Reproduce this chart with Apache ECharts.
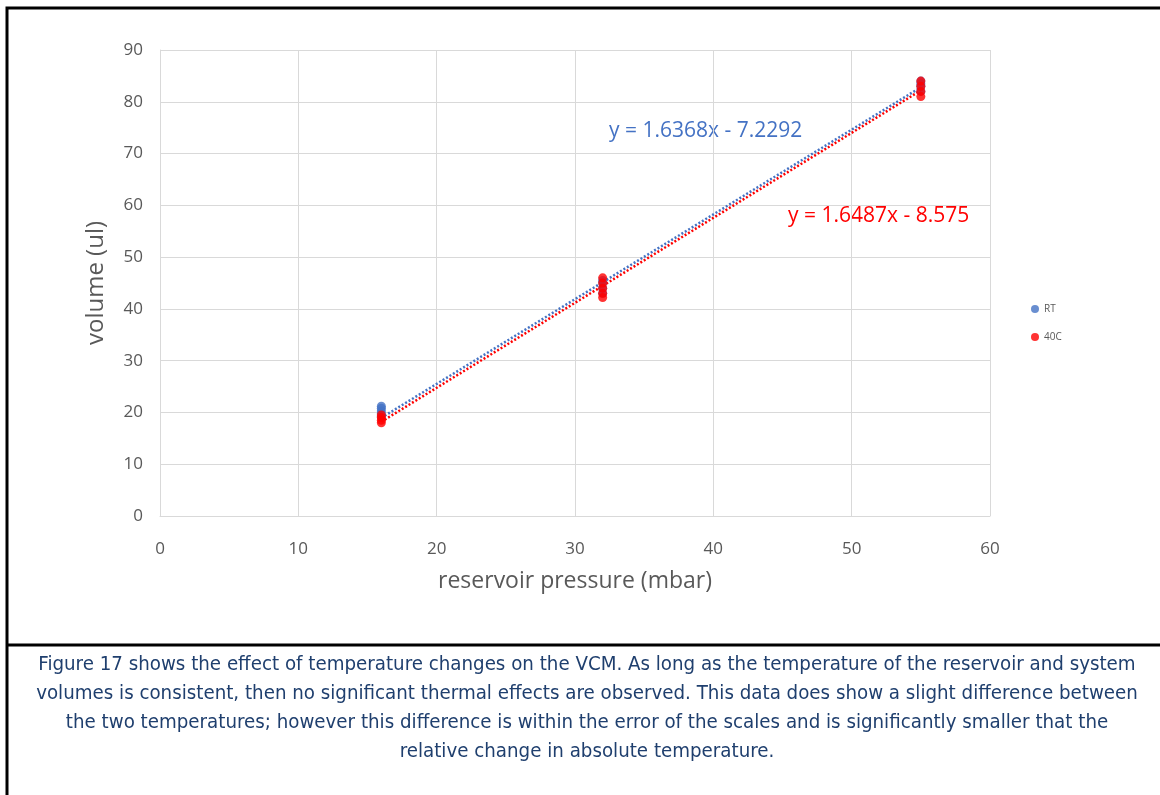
<!DOCTYPE html>
<html>
<head>
<meta charset="utf-8">
<script src="https://cdn.jsdelivr.net/npm/echarts@6/dist/echarts.min.js"></script>
<style>html,body{margin:0;padding:0;background:#fff}#c{width:1160px;height:795px}</style>
</head>
<body>
<div id="c"></div>
<script>
// Data
const rtPoints = [[16,19.2],[16,19.8],[16,20.3],[16,20.8],[16,21.2],[32,43],[32,44],[32,45],[32,45.5],[55,82],[55,83],[55,83.5],[55,84]];
const c40Points = [[16,18],[16,18.5],[16,19],[16,19.5],[32,42.2],[32,43],[32,44],[32,45],[32,46],[55,81],[55,82],[55,83],[55,84]];
const rtTrend = [[16,18.96],[55,82.8]];
const c40Trend = [[16,18.2],[55,82.2]];
const rtEquation = 'y = 1.6368x - 7.2292';
const c40Equation = 'y = 1.6487x - 8.575';
const xTicks = {min:0, max:60, interval:10};
const yTicks = {min:0, max:90, interval:10};
const captionLines = [
  'Figure 17 shows the effect of temperature changes on the VCM. As long as the temperature of the reservoir and system',
  'volumes is consistent, then no significant thermal effects are observed. This data does show a slight difference between',
  'the two temperatures; however this difference is within the error of the scales and is significantly smaller that the',
  'relative change in absolute temperature.'
];

const blue = '#4472C4', red = '#FF0000', grid = '#D9D9D9', txt = '#595959';
const chart = echarts.init(document.getElementById('c'));
chart.setOption({
  backgroundColor: '#fff',
  animation: false,
  grid: {left:160, right:170, top:50, bottom:279},
  xAxis: {
    type:'value', min:xTicks.min, max:xTicks.max, interval:xTicks.interval,
    name:'reservoir pressure (mbar)', nameLocation:'middle', nameGap:54,
    nameTextStyle:{color:txt, fontSize:23, fontFamily:'Open Sans'},
    axisLine:{show:true, lineStyle:{color:grid}}, axisTick:{show:false},
    axisLabel:{color:txt, fontSize:17, fontFamily:'Open Sans', margin:25},
    splitLine:{lineStyle:{color:grid}}
  },
  yAxis: {
    type:'value', min:yTicks.min, max:yTicks.max, interval:yTicks.interval,
    name:'volume (ul)', nameLocation:'middle', nameGap:52, nameRotate:90,
    nameTextStyle:{color:txt, fontSize:24, fontFamily:'Open Sans'},
    axisLine:{show:true, lineStyle:{color:grid}}, axisTick:{show:false},
    axisLabel:{color:txt, fontSize:17, fontFamily:'Open Sans', margin:17},
    splitLine:{lineStyle:{color:grid}}
  },
  legend: {
    orient:'vertical', left:1026, top:299, itemGap:18, itemWidth:8, itemHeight:8,
    data:[{name:'RT', icon:'circle'},{name:'40C', icon:'circle'}],
    textStyle:{color:txt, fontSize:10, fontFamily:'Open Sans'}
  },
  series: [
    {name:'RT trend', type:'line', data:rtTrend, symbol:'none', silent:true,
     lineStyle:{color:blue, width:2.5, type:[2,2]}, z:3},
    {name:'40C trend', type:'line', data:c40Trend, symbol:'none', silent:true,
     lineStyle:{color:red, width:2.5, type:[2,2]}, z:3},
    {name:'RT', type:'scatter', data:rtPoints, symbol:'circle', symbolSize:9, itemStyle:{color:blue}, z:4},
    {name:'40C', type:'scatter', data:c40Points, symbol:'circle', symbolSize:9, itemStyle:{color:red}, z:5}
  ],
  graphic: [
    {type:'text', left:609, top:121, style:{text:rtEquation, fill:blue, fontSize:21, fontFamily:'Open Sans'}},
    {type:'text', left:788, top:206, style:{text:c40Equation, fill:red, fontSize:21, fontFamily:'Open Sans'}},
    {type:'polyline', shape:{points:[[7,795],[7,8],[1160,8]]}, style:{stroke:'#000', lineWidth:3, fill:null}},
    {type:'line', shape:{x1:7,y1:645,x2:1160,y2:645}, style:{stroke:'#000', lineWidth:3}},
    {type:'text', x:587, y:650, style:{text:captionLines.join('\n'), fill:'#1F3F6E', fontSize:20.3, lineHeight:29,
      fontFamily:'"Liberation Sans Narrow","DejaVu Sans Condensed",sans-serif', align:'center', verticalAlign:'top'}}
  ]
});
</script>
</body>
</html>
